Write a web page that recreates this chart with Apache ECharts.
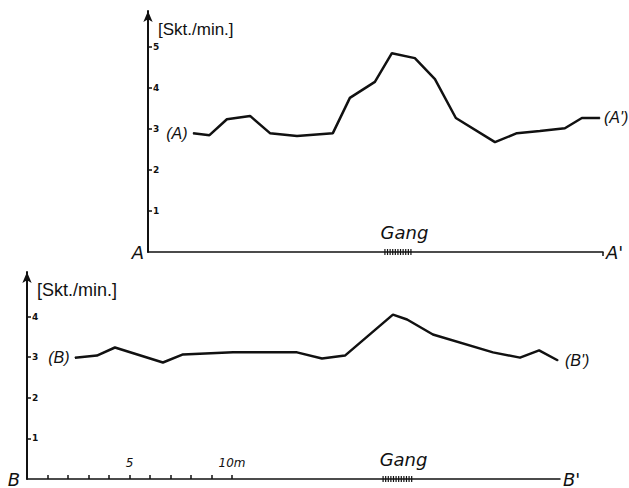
<!DOCTYPE html>
<html>
<head>
<meta charset="utf-8">
<script src="https://cdn.jsdelivr.net/npm/echarts@6/dist/echarts.min.js"></script>
<style>
  html, body { margin: 0; padding: 0; background: #fff; }
  #chart { width: 629px; height: 488px; }
</style>
</head>
<body>
<div id="chart"></div>
<script>
// profile A - A' : distance along the profile (m) and count rate (Skt./min.)
const distA = [2.2, 3.0, 3.85, 4.98, 5.95, 7.27, 9.02, 9.85, 11.07, 11.9, 13.02, 14.0, 15.02, 16.93, 18.0, 19.12, 20.34, 21.17, 22.05];
const rateA = [2.9, 2.85, 3.24, 3.32, 2.9, 2.83, 2.9, 3.76, 4.15, 4.85, 4.73, 4.22, 3.27, 2.68, 2.9, 2.95, 3.02, 3.27, 3.27];

// profile B - B'
const distB = [2.34, 3.41, 4.29, 6.63, 7.61, 10.05, 13.17, 14.39, 15.51, 17.85, 18.54, 19.8, 22.73, 24.05, 24.98, 25.9];
const rateB = [2.99, 3.04, 3.24, 2.87, 3.07, 3.12, 3.12, 2.97, 3.04, 4.05, 3.93, 3.56, 3.12, 2.99, 3.17, 2.92];

// extent of the "Gang" (vein) on each profile, in m
const gangA = [11.56, 12.88];
const gangB = [17.37, 18.78];

const xMaxA = 22.2;
const xMaxB = 26.0;
const yTicksA = [1, 2, 3, 4, 5];
const yTicksB = [1, 2, 3, 4];
const xTicksB = [1, 2, 3, 4, 5, 6, 7, 8, 9, 10];
const xLabelsB = [5, 10];

const ink = '#111';
const pairs = (xs, ys) => xs.map((x, i) => [x, ys[i]]);

function gangItem(params, api) {
    const s = api.coord([api.value(0), 0]);
    const e = api.coord([api.value(1), 0]);
    const children = [];
    for (let x = s[0]; x <= e[0]; x += 2.6) {
        children.push({
            type: 'line',
            shape: { x1: x, y1: s[1] - 3, x2: x, y2: s[1] + 3 },
            style: { stroke: ink, lineWidth: 1.2 },
        });
    }
    children.push({
        type: 'text',
        x: (s[0] + e[0]) / 2 + 6,
        y: s[1] - 20,
        style: {
            text: 'Gang',
            fill: ink,
            fontSize: 18,
            fontStyle: 'italic',
            fontFamily: 'DejaVu Sans',
            align: 'center',
            verticalAlign: 'middle',
        },
    });
    return { type: 'group', children };
}

function yAxis(gridIndex, max, ticks, nameSize) {
    return {
        type: 'value',
        gridIndex,
        min: 0,
        max,
        name: '[Skt./min.]',
        nameLocation: 'end',
        nameGap: -18,
        nameTextStyle: {
            color: ink,
            fontSize: nameSize,
            fontFamily: 'Liberation Sans',
            align: 'left',
            verticalAlign: 'middle',
            padding: [0, 0, 0, 10],
        },
        axisLine: {
            show: true,
            symbol: ['none', 'arrow'],
            symbolSize: [7, 11],
            lineStyle: { color: ink, width: 2 },
        },
        axisTick: { show: true, inside: true, length: 4, customValues: ticks, lineStyle: { color: ink, width: 1.5 } },
        axisLabel: {
            show: true,
            inside: true,
            margin: 5,
            customValues: ticks,
            color: ink,
            fontSize: 9,
            fontWeight: 'bold',
            fontFamily: 'DejaVu Sans',
        },
        splitLine: { show: false },
    };
}

const endName = {
    color: ink,
    fontSize: 18,
    fontStyle: 'italic',
    fontFamily: 'DejaVu Sans',
    verticalAlign: 'middle',
    padding: [0, 0, 4, 0],
};

const endLabelStyle = { color: ink, fontSize: 16, fontStyle: 'italic', fontFamily: 'Liberation Sans' };

const option = {
    backgroundColor: '#fff',
    animation: false,
    grid: [
        { left: 148, top: 11, width: 455, height: 241 },
        { left: 27, top: 272, width: 533, height: 208 },
    ],
    xAxis: [
        {
            type: 'value',
            gridIndex: 0,
            position: 'bottom',
            min: 0,
            max: xMaxA,
            name: "A'",
            nameLocation: 'end',
            nameGap: 3,
            nameTextStyle: endName,
            axisLine: { lineStyle: { color: ink, width: 1.5 } },
            axisTick: { show: true, customValues: [xMaxA], length: 4, lineStyle: { color: ink, width: 1.5 } },
            axisLabel: { show: false },
            splitLine: { show: false },
        },
        {
            type: 'value',
            gridIndex: 1,
            position: 'bottom',
            min: 0,
            max: xMaxB,
            name: "B'",
            nameLocation: 'end',
            nameGap: 3,
            nameTextStyle: endName,
            axisLine: { lineStyle: { color: ink, width: 1.5 } },
            axisTick: { show: true, inside: true, length: 4, customValues: xTicksB, lineStyle: { color: ink, width: 1.5 } },
            axisLabel: {
                show: true,
                inside: true,
                margin: 10,
                customValues: xLabelsB,
                formatter: (v) => (v === 10 ? '10m' : String(v)),
                color: ink,
                fontSize: 12,
                fontStyle: 'italic',
                fontFamily: 'DejaVu Sans',
            },
            splitLine: { show: false },
        },
        // start-of-profile letters A and B
        {
            type: 'value', gridIndex: 0, position: 'bottom', offset: 0, min: 0, max: xMaxA,
            name: 'A', nameLocation: 'start', nameGap: 4, nameTextStyle: endName,
            axisLine: { show: false }, axisTick: { show: false }, axisLabel: { show: false }, splitLine: { show: false },
        },
        {
            type: 'value', gridIndex: 1, position: 'bottom', offset: 0, min: 0, max: xMaxB,
            name: 'B', nameLocation: 'start', nameGap: 7, nameTextStyle: endName,
            axisLine: { show: false }, axisTick: { show: false }, axisLabel: { show: false }, splitLine: { show: false },
        },
    ],
    yAxis: [yAxis(0, 5.88, yTicksA, 17), yAxis(1, 5.1, yTicksB, 18)],
    series: [
        {
            type: 'line',
            xAxisIndex: 0,
            yAxisIndex: 0,
            data: pairs(distA, rateA).map((p, i) => (i === 0
                ? { value: p, label: { show: true, position: 'left', distance: 5, formatter: '(A)' } }
                : p)),
            symbol: 'circle',
            symbolSize: 1,
            showSymbol: true,
            itemStyle: { color: ink },
            lineStyle: { color: ink, width: 2.5 },
            label: endLabelStyle,
            endLabel: Object.assign({ show: true, formatter: "(A')", distance: 4 }, endLabelStyle),
        },
        {
            type: 'line',
            xAxisIndex: 1,
            yAxisIndex: 1,
            data: pairs(distB, rateB).map((p, i) => (i === 0
                ? { value: p, label: { show: true, position: 'left', distance: 5, formatter: '(B)' } }
                : p)),
            symbol: 'circle',
            symbolSize: 1,
            showSymbol: true,
            itemStyle: { color: ink },
            lineStyle: { color: ink, width: 2.5 },
            label: endLabelStyle,
            endLabel: Object.assign({ show: true, formatter: "(B')", distance: 7 }, endLabelStyle),
        },
        {
            type: 'custom',
            xAxisIndex: 0,
            yAxisIndex: 0,
            clip: false,
            data: [gangA],
            encode: { x: [0, 1] },
            renderItem: gangItem,
        },
        {
            type: 'custom',
            xAxisIndex: 1,
            yAxisIndex: 1,
            clip: false,
            data: [gangB],
            encode: { x: [0, 1] },
            renderItem: gangItem,
        },
    ],
};

const chart = echarts.init(document.getElementById('chart'), null, { renderer: 'svg' });
chart.setOption(option);
</script>
</body>
</html>
